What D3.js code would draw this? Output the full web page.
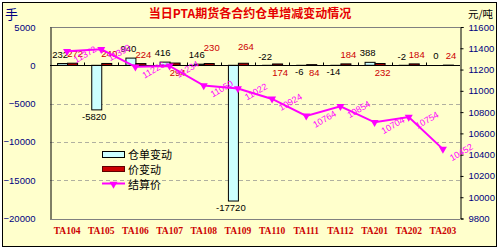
<!DOCTYPE html>
<html>
<head>
<meta charset="utf-8">
<script src="https://cdn.jsdelivr.net/npm/d3@7"></script>
<style>
  body { margin: 0; background: #fff; }
  text { font-family: "Liberation Sans", Arial, sans-serif; }
</style>
</head>
<body>
<script>
// contracts, warrant change (手), price change, settlement price (元/吨)
const contracts = ["TA104","TA105","TA106","TA107","TA108","TA109","TA110","TA111","TA112","TA201","TA202","TA203"];
const warrantChange = [232, -5820, 940, 416, 146, -17720, -22, -6, -14, 388, -2, 0];
const priceChange = [272, 240, 224, 294, 230, 264, 174, 84, 184, 232, 184, 24];
const settlePrice = [11372, 11390, 11226, 11234, 11050, 11022, 10924, 10764, 10854, 10704, 10754, 10452];
const leftTicks = [5000, 0, -5000, -10000, -15000, -20000];
const rightTicks = [11600, 11400, 11200, 11000, 10800, 10600, 10400, 10200, 10000, 9800];

// label placement tweaks
const priceLabelBelow = ["TA107", "TA110", "TA111", "TA201"];
const priceLabelHigh = ["TA108", "TA109"];
const warrantLabelUp = ["TA110", "TA202"];

const width = 499;
const height = 250;
const plot = {left: 50, right: 460, top: 27, bottom: 218.5};

let svg = d3.select('body')
            .append('svg')
            .attr('width', width)
            .attr('height', height);

svg.append('rect')
   .attr('x', 0).attr('y', 0)
   .attr('width', width).attr('height', height)
   .attr('fill', '#fff');

svg.append('rect')
   .attr('x', 2.5).attr('y', 2.5)
   .attr('width', 494).attr('height', 244)
   .attr('fill', '#ffffcc')
   .attr('stroke', '#000');

let x = d3.scaleBand()
          .domain(contracts)
          .range([plot.left, plot.right]);

let yL = d3.scaleLinear()
           .domain([-20000, 5000])
           .range([plot.bottom, plot.top]);

let yR = d3.scaleLinear()
           .domain([9800, 11600])
           .range([plot.bottom, plot.top]);

const barW = 10;

// grid lines
svg.selectAll('line.grid')
   .data(leftTicks.filter(t => t < 0 && t > -20000))
   .enter()
   .append('line')
   .attr('class', 'grid')
   .attr('x1', plot.left).attr('x2', plot.right)
   .attr('y1', d => Math.round(yL(d)) + 0.5)
   .attr('y2', d => Math.round(yL(d)) + 0.5)
   .attr('stroke', '#b0b0a0')
   .attr('stroke-dasharray', '4,3');

// plot frame
svg.append('line')
   .attr('x1', plot.left).attr('x2', plot.right)
   .attr('y1', plot.top + 0.5).attr('y2', plot.top + 0.5)
   .attr('stroke', '#808080');
svg.append('line')
   .attr('x1', plot.left).attr('x2', plot.right)
   .attr('y1', Math.round(plot.bottom) + 0.5).attr('y2', Math.round(plot.bottom) + 0.5)
   .attr('stroke', '#808080');

// left axis
let leftAxis = d3.axisLeft(yL)
                 .tickValues(leftTicks)
                 .tickSize(0)
                 .tickPadding(15)
                 .tickFormat(d3.format('d'));
let gL = svg.append('g')
            .attr('transform', `translate(${plot.left + 0.5},0)`)
            .call(leftAxis);
gL.select('.domain').attr('stroke', '#000');
gL.selectAll('text')
  .attr('fill', '#000080')
  .style('font-size', '9.5px')
  .style('font-family', '"Liberation Sans", Arial, sans-serif');

// right axis
let rightAxis = d3.axisRight(yR)
                  .tickValues(rightTicks)
                  .tickSize(3)
                  .tickPadding(5)
                  .tickFormat(d3.format('d'));
let gR = svg.append('g')
            .attr('transform', `translate(${plot.right + 0.5},0)`)
            .call(rightAxis);
gR.select('.domain').attr('stroke', '#000');
gR.selectAll('text')
  .attr('fill', '#000080')
  .style('font-size', '9.5px')
  .style('font-family', '"Liberation Sans", Arial, sans-serif');

// category labels
svg.selectAll('text.cat')
   .data(contracts)
   .enter()
   .append('text')
   .attr('class', 'cat')
   .attr('x', d => x(d) + x.bandwidth() / 2)
   .attr('y', 234)
   .attr('text-anchor', 'middle')
   .attr('fill', '#cc0000')
   .style('font-family', '"Liberation Serif", serif')
   .style('font-weight', 'bold')
   .style('font-size', '9.5px')
   .text(d => d);

// warrant change bars
svg.selectAll('rect.warrant')
   .data(contracts)
   .enter()
   .append('rect')
   .attr('class', 'warrant')
   .attr('x', d => x(d) + x.bandwidth() / 2 - barW + 0.5)
   .attr('y', (d, i) => yL(Math.max(0, warrantChange[i])))
   .attr('width', barW)
   .attr('height', (d, i) => Math.abs(yL(warrantChange[i]) - yL(0)))
   .attr('fill', '#ccffff')
   .attr('stroke', '#000')
   .attr('stroke-width', 1);

// price change bars
svg.selectAll('rect.price')
   .data(contracts)
   .enter()
   .append('rect')
   .attr('class', 'price')
   .attr('x', d => x(d) + x.bandwidth() / 2 + 0.5)
   .attr('y', (d, i) => yL(Math.max(0, priceChange[i])))
   .attr('width', barW)
   .attr('height', (d, i) => Math.abs(yL(priceChange[i]) - yL(0)))
   .attr('fill', '#cc0000')
   .attr('stroke', '#000')
   .attr('stroke-width', 1);

// zero line with small ticks at category boundaries
const y0 = Math.round(yL(0)) + 0.5;
svg.append('line')
   .attr('x1', plot.left).attr('x2', plot.right)
   .attr('y1', y0).attr('y2', y0)
   .attr('stroke', '#000');
svg.selectAll('line.zt')
   .data(contracts.slice(1))
   .enter()
   .append('line')
   .attr('class', 'zt')
   .attr('x1', d => Math.round(x(d)) + 0.5)
   .attr('x2', d => Math.round(x(d)) + 0.5)
   .attr('y1', y0).attr('y2', y0 - 3)
   .attr('stroke', '#000');

// warrant labels
svg.selectAll('text.wl')
   .data(contracts)
   .enter()
   .append('text')
   .attr('class', 'wl')
   .attr('x', d => x(d) + x.bandwidth() / 2 - barW / 2 - 2)
   .attr('y', (d, i) => {
       let v = warrantChange[i];
       if (v >= 0) return yL(v) - 6;
       if (warrantLabelUp.includes(d)) return yL(0) - 5;
       return yL(v) + 10;
   })
   .attr('text-anchor', 'middle')
   .attr('fill', '#000')
   .style('font-size', '9.5px')
   .text((d, i) => warrantChange[i]);

// price change labels
svg.selectAll('text.pl')
   .data(contracts)
   .enter()
   .append('text')
   .attr('class', 'pl')
   .attr('x', d => x(d) + x.bandwidth() / 2 + barW / 2 + 3)
   .attr('y', (d, i) => {
       if (priceLabelBelow.includes(d)) return yL(0) + 11;
       if (priceLabelHigh.includes(d)) return yL(priceChange[i]) - 13;
       return yL(priceChange[i]) - 6;
   })
   .attr('text-anchor', 'middle')
   .attr('fill', '#cc0000')
   .style('font-size', '9.5px')
   .text((d, i) => priceChange[i]);

// settlement price line
let line = d3.line()
             .x(d => x(d.c) + x.bandwidth() / 2)
             .y(d => yR(d.v));
let pts = contracts.map((c, i) => ({c: c, v: settlePrice[i]}));

svg.append('path')
   .datum(pts)
   .attr('d', line)
   .attr('fill', 'none')
   .attr('stroke', '#ff00ff')
   .attr('stroke-width', 2);

svg.selectAll('path.mk')
   .data(pts)
   .enter()
   .append('path')
   .attr('class', 'mk')
   .attr('d', d3.symbol().type(d3.symbolTriangle).size(28))
   .attr('transform', d => `translate(${x(d.c) + x.bandwidth() / 2},${yR(d.v)}) rotate(180)`)
   .attr('fill', '#ff00ff');

svg.selectAll('text.sl')
   .data(pts)
   .enter()
   .append('text')
   .attr('class', 'sl')
   .attr('transform', d => `translate(${x(d.c) + x.bandwidth() / 2 + 9},${yR(d.v) + 12}) rotate(-30)`)
   .attr('fill', '#ff00ff')
   .style('font-size', '9px')
   .text(d => d.v);

// legend
let legend = svg.append('g').attr('transform', 'translate(102,150)');
legend.append('rect')
      .attr('x', 0.5).attr('y', 1.5).attr('width', 22).attr('height', 6)
      .attr('fill', '#ccffff').attr('stroke', '#000');
legend.append('rect')
      .attr('x', 0.5).attr('y', 16.5).attr('width', 22).attr('height', 5)
      .attr('fill', '#cc0000').attr('stroke', '#600000');
legend.append('line')
      .attr('x1', 0).attr('x2', 23).attr('y1', 33.5).attr('y2', 33.5)
      .attr('stroke', '#ff00ff').attr('stroke-width', 2);
legend.append('path')
      .attr('d', d3.symbol().type(d3.symbolTriangle).size(28))
      .attr('transform', 'translate(11.5,34) rotate(180)')
      .attr('fill', '#ff00ff');
const legendLabels = ["仓单变动", "价变动", "结算价"];
legend.selectAll('text')
      .data(legendLabels)
      .enter()
      .append('text')
      .attr('x', 26)
      .attr('y', (d, i) => 8.5 + i * 15)
      .attr('fill', '#000')
      .style('font-family', '"Noto Sans CJK SC", sans-serif')
      .style('font-size', '11px')
      .text(d => d);

// titles
svg.append('text')
   .attr('x', 250).attr('y', 18)
   .attr('text-anchor', 'middle')
   .attr('fill', '#e60000')
   .style('font-family', '"Noto Sans CJK SC", sans-serif')
   .style('font-weight', 'bold')
   .style('font-size', '12px')
   .text('当日PTA期货各合约仓单增减变动情况');

svg.append('text')
   .attr('x', 5).attr('y', 19)
   .attr('fill', '#000080')
   .style('font-family', '"Noto Sans CJK SC", sans-serif')
   .style('font-size', '13px')
   .text('手');

svg.append('text')
   .attr('x', 468).attr('y', 18)
   .attr('fill', '#000')
   .style('font-family', '"Noto Sans CJK SC", sans-serif')
   .style('font-size', '10.5px')
   .text('元/吨');
</script>
</body>
</html>
